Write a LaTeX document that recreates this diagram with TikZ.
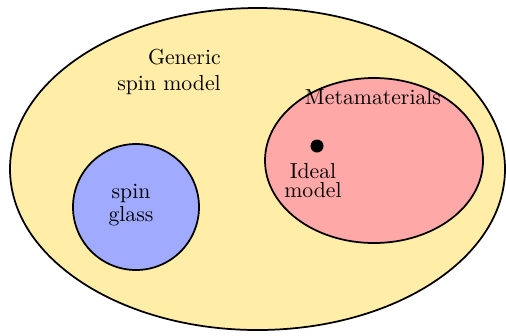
\documentclass[tikz,border=0pt]{standalone}
\usepackage{amsfonts, amssymb, amsmath}
\usepackage{tikz}

\definecolor{genyellow}{HTML}{FFEDA8}
\definecolor{metared}{HTML}{FFA8A8}
\definecolor{glassblue}{HTML}{A0AAFF}

\begin{document}
\begin{tikzpicture}[x=0.46pt, y=-0.46pt]
    \useasboundingbox (0,0) rectangle (506,335);

    % generic spin models
    \draw[thick, fill=genyellow] (257.5,169) ellipse [x radius=247.5, y radius=161];
    \node[align=right] (generic) at (169,72) {Generic\\spin model};

    % metamaterials
    \draw[thick, fill=metared] (374,160.5) ellipse [x radius=109, y radius=82.5];
    \node (meta) at (373,97) {Metamaterials};

    % ideal model
    \fill (317,146) circle [radius=6.5];
    \node[align=center] (ideal) at (313,181) {Ideal\\[-3.3pt]model};

    % spin glass
    \draw[thick, fill=glassblue] (136,207) circle [radius=63];
    \node[align=center] (glass) at (131,205) {spin\\[-1.4pt]glass};
\end{tikzpicture}
\end{document}
